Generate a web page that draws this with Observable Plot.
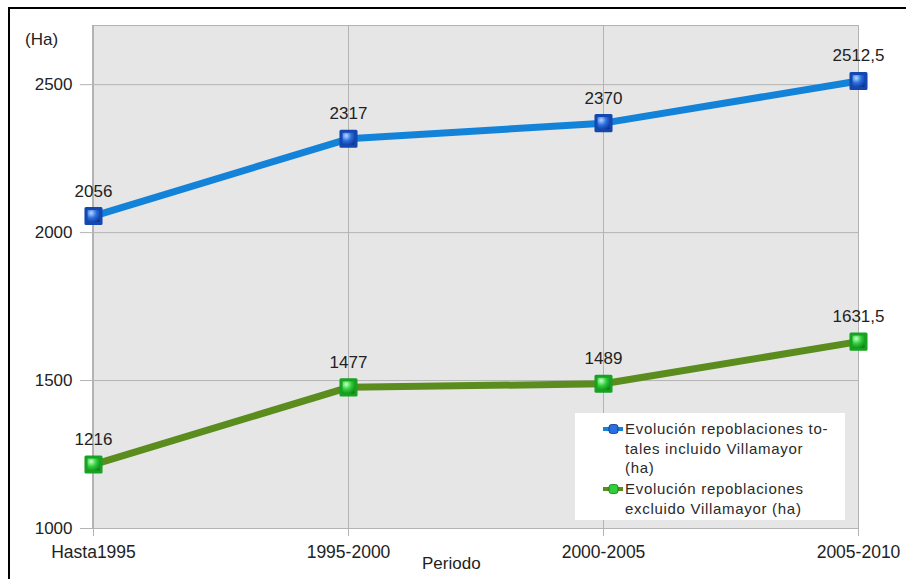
<!DOCTYPE html>
<html>
<head>
<meta charset="utf-8">
<script src="https://cdn.jsdelivr.net/npm/d3@7"></script>
<script src="https://cdn.jsdelivr.net/npm/@observablehq/plot@0.6"></script>
<style>
  html, body { margin: 0; padding: 0; background: #fff; }
  #wrap { position: relative; width: 906px; height: 579px; overflow: hidden; background: #fff;
          font-family: "Liberation Sans", Arial, sans-serif; color: #222; }
  #frame { position: absolute; left: 8px; top: 7px; width: 1000px; height: 1000px; border: 2px solid #000; }
  #chart { position: absolute; left: 0; top: 0; }
  #legend { position: absolute; left: 575px; top: 413px; width: 270px; height: 107px; background: #fff; }
  .entry { position: absolute; left: 50px; font-size: 15px; line-height: 19.5px; color: #2a2a2a; letter-spacing: 0.7px; white-space: nowrap; }
  .icon { position: absolute; left: 28px; }
  #ylab { position: absolute; left: 25px; top: 30px; font-size: 17px; color: #222; }
  #xlab { position: absolute; left: 422px; top: 554px; font-size: 17px; color: #222; }
</style>
</head>
<body>
<div id="wrap">
  <div id="frame"></div>
  <div id="chart"></div>
  <div id="ylab">(Ha)</div>
  <div id="xlab">Periodo</div>
  <div id="legend"></div>
</div>
<script>
const periods = ["Hasta1995", "1995-2000", "2000-2005", "2005-2010"];
const totalValues = [2056, 2317, 2370, 2512.5];
const excludedValues = [1216, 1477, 1489, 1631.5];
const yTicks = [1000, 1500, 2000, 2500];
const seriesNames = ["Evolución repoblaciones to-\ntales incluido Villamayor\n(ha)", "Evolución repoblaciones\nexcluido Villamayor (ha)"];
const seriesColors = ["#1283d8", "#5a8c1e"];

const total = periods.map((p, i) => ({period: p, value: totalValues[i]}));
const excluded = periods.map((p, i) => ({period: p, value: excludedValues[i]}));
const fmt = v => String(v).replace(".", ",");

const defs = () => {
  const d = d3.create("svg:defs");
  const mk = (id, c0, c1, c2) => {
    const g = d.append("radialGradient").attr("id", id).attr("cx", "35%").attr("cy", "30%").attr("r", "75%");
    g.append("stop").attr("offset", "0%").attr("stop-color", c0);
    g.append("stop").attr("offset", "45%").attr("stop-color", c1);
    g.append("stop").attr("offset", "100%").attr("stop-color", c2);
  };
  mk("gblue", "#b8d6ff", "#2a6fe0", "#0b2f8a");
  mk("ggreen", "#c8ffc8", "#2fcf3a", "#0f7a15");
  return d.node();
};

const chart = Plot.plot({
  width: 906,
  height: 579,
  marginLeft: 92,
  marginRight: 48,
  marginTop: 25,
  marginBottom: 51,
  style: {background: "transparent", fontFamily: "Liberation Sans, Arial, sans-serif", color: "#222"},
  x: {type: "point", domain: periods, padding: 0},
  y: {domain: [1000, 2700]},
  marks: [
    defs,
    Plot.frame({fill: "#e6e6e6"}),
    Plot.ruleY(yTicks, {stroke: "#b3b3b3", strokeWidth: 1}),
    Plot.ruleX(periods, {stroke: "#b3b3b3", strokeWidth: 1}),
    Plot.frame({stroke: "#b3b3b3"}),
    Plot.axisY({ticks: yTicks, tickFormat: d => String(d), tickSize: 12, tickPadding: 8, fontSize: 17, stroke: "#b3b3b3", label: null}),
    Plot.axisX({tickSize: 8, tickPadding: 9, fontSize: 17.5, stroke: "#b3b3b3", label: null}),
    Plot.line(total, {x: "period", y: "value", stroke: seriesColors[0], strokeWidth: 7}),
    Plot.line(excluded, {x: "period", y: "value", stroke: seriesColors[1], strokeWidth: 7}),
    Plot.dot(total, {x: "period", y: "value", symbol: "square", r: 8.5, fill: "url(#gblue)", stroke: "#1448b0", strokeWidth: 3, strokeLinejoin: "round"}),
    Plot.dot(excluded, {x: "period", y: "value", symbol: "square", r: 8.5, fill: "url(#ggreen)", stroke: "#17a321", strokeWidth: 3, strokeLinejoin: "round"}),
    Plot.text(total, {x: "period", y: "value", text: d => fmt(d.value), dy: -25, fontSize: 17, fill: "#222"}),
    Plot.text(excluded, {x: "period", y: "value", text: d => fmt(d.value), dy: -25, fontSize: 17, fill: "#222"})
  ]
});
document.getElementById("chart").appendChild(chart);

// legend
const legend = document.getElementById("legend");
const tops = [6, 66];
const gradIds = [["#b8d6ff", "#2a6fe0", "#0b2f8a"], ["#c8ffc8", "#2fcf3a", "#0f7a15"]];
seriesNames.forEach((name, i) => {
  const icon = document.createElementNS("http://www.w3.org/2000/svg", "svg");
  icon.setAttribute("class", "icon");
  icon.setAttribute("width", "20");
  icon.setAttribute("height", "10");
  icon.style.top = (tops[i] + 5) + "px";
  icon.innerHTML = `<rect x="0" y="3" width="20" height="4" fill="${seriesColors[i]}"/>
    <rect x="6" y="0.5" width="9" height="9" rx="2.5" fill="${gradIds[i][1]}" stroke="${gradIds[i][2]}" stroke-width="0.8"/>`;
  legend.appendChild(icon);
  const div = document.createElement("div");
  div.className = "entry";
  div.style.top = tops[i] + "px";
  div.innerHTML = name.split("\n").join("<br>");
  legend.appendChild(div);
});
</script>
</body>
</html>
